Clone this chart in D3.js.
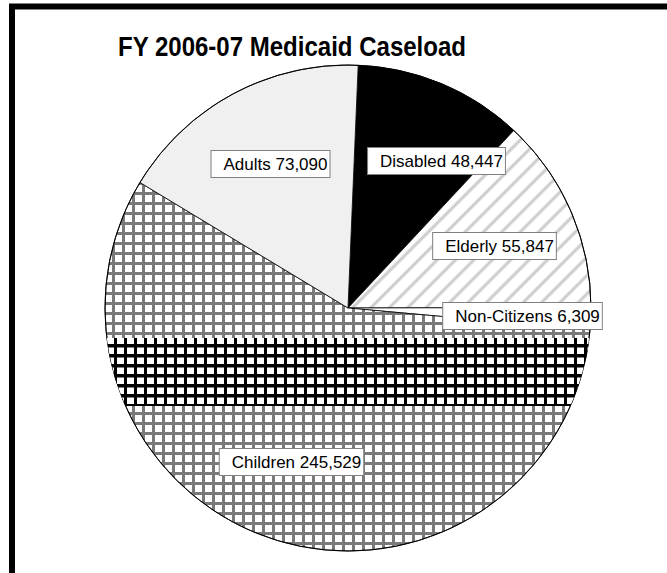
<!DOCTYPE html>
<html>
<head>
<meta charset="utf-8">
<script src="https://cdn.jsdelivr.net/npm/d3@7"></script>
<style>
  html, body { margin: 0; padding: 0; background: #ffffff; }
  svg { display: block; }
  text { font-family: "Liberation Sans", Arial, sans-serif; }
</style>
</head>
<body>
<svg id="chart" width="667" height="573"></svg>
<script>
// ---- data ----
const categories = ["Disabled", "Elderly", "Non-Citizens", "Children", "Adults"];
const caseload = [48447, 55847, 6309, 245529, 73090];
const title = "FY 2006-07 Medicaid Caseload";

// ---- layout / style ----
const W = 667, H = 573;
const cx = 348, cy = 308, R = 243;
const startDeg = 2.4;
const fills = {
  "Disabled": "#000000",
  "Elderly": "url(#hatch)",
  "Non-Citizens": "#ffffff",
  "Children": "url(#grid)",
  "Adults": "#f0f0f0"
};
// label box centre, relative to pie centre (pixels)
const labelPos = {
  "Adults": [-75, -144],
  "Disabled": [91, -147],
  "Elderly": [149, -62],
  "Non-Citizens": [177, 8],
  "Children": [-54, 154]
};

const svg = d3.select("#chart");
const defs = svg.append("defs");

// diagonal hatch for Elderly
const hatch = defs.append("pattern")
  .attr("id", "hatch").attr("patternUnits", "userSpaceOnUse")
  .attr("width", 13).attr("height", 13)
  .attr("patternTransform", "rotate(45)");
hatch.append("rect").attr("width", 13).attr("height", 13).attr("fill", "#ffffff");
hatch.append("line").attr("x1", 3).attr("y1", 0).attr("x2", 3).attr("y2", 13)
  .attr("stroke", "#cccccc").attr("stroke-width", 3);

// grid for Children
function gridPattern(id, color, hw, vw) {
  const p = defs.append("pattern")
    .attr("id", id).attr("patternUnits", "userSpaceOnUse")
    .attr("width", 10).attr("height", 10);
  p.append("rect").attr("width", 10).attr("height", 10).attr("fill", "#ffffff");
  p.append("rect").attr("x", 0).attr("y", 4).attr("width", 10).attr("height", hw).attr("fill", color);
  p.append("rect").attr("x", 4).attr("y", 0).attr("width", vw).attr("height", 10).attr("fill", color);
}
gridPattern("grid", "#7a7a7a", 3, 3);
gridPattern("gridDark", "#000000", 3.5, 3);

// frame
svg.append("path")
  .attr("d", `M12,${H + 5} L12,6.5 L${W + 5},6.5`)
  .attr("fill", "none").attr("stroke", "#000").attr("stroke-width", 6)
  .attr("stroke-linejoin", "miter");

// title
svg.append("text")
  .attr("x", 118).attr("y", 56)
  .attr("font-size", 27).attr("font-weight", "bold")
  .attr("textLength", 348).attr("lengthAdjust", "spacingAndGlyphs")
  .attr("fill", "#000")
  .text(title);

const data = categories.map((c, i) => ({ name: c, value: caseload[i] }));
const pie = d3.pie().value(d => d.value).sort(null)
  .startAngle(startDeg * Math.PI / 180)
  .endAngle(startDeg * Math.PI / 180 + 2 * Math.PI);
const arcs = pie(data);
const arc = d3.arc().innerRadius(0).outerRadius(R);

const g = svg.append("g").attr("transform", `translate(${cx},${cy})`);

g.selectAll("path.slice").data(arcs).enter().append("path")
  .attr("class", "slice")
  .attr("d", arc)
  .attr("fill", d => fills[d.data.name])
  .attr("stroke", "#000").attr("stroke-width", 0.8);

// darker band of the children grid (as printed in the original)
const childArc = arcs.find(a => a.data.name === "Children");
defs.append("clipPath").attr("id", "childClip")
  .append("path").attr("d", arc(childArc)).attr("transform", `translate(${cx},${cy})`);
svg.append("rect")
  .attr("x", cx - R).attr("y", 338).attr("width", 2 * R).attr("height", 68)
  .attr("fill", "url(#gridDark)")
  .attr("clip-path", "url(#childClip)");

// outer outline
g.append("circle").attr("r", R).attr("fill", "none").attr("stroke", "#000").attr("stroke-width", 1);

// labels
const fmt = d3.format(",");
arcs.forEach(a => {
  const [dx, dy] = labelPos[a.data.name];
  const lg = g.append("g").attr("transform", `translate(${dx},${dy})`);
  const t = lg.append("text")
    .attr("font-size", 17).attr("fill", "#000")
    .attr("text-anchor", "middle").attr("dy", "0.36em")
    .text(`${a.data.name} ${fmt(a.data.value)}`);
  const bb = t.node().getBBox();
  lg.insert("rect", "text")
    .attr("x", bb.x - 10).attr("y", -13.5)
    .attr("width", bb.width + 15).attr("height", 27)
    .attr("fill", "#ffffff").attr("stroke", "#808080").attr("stroke-width", 1);
  t.attr("x", 2.5);
});
</script>
</body>
</html>
